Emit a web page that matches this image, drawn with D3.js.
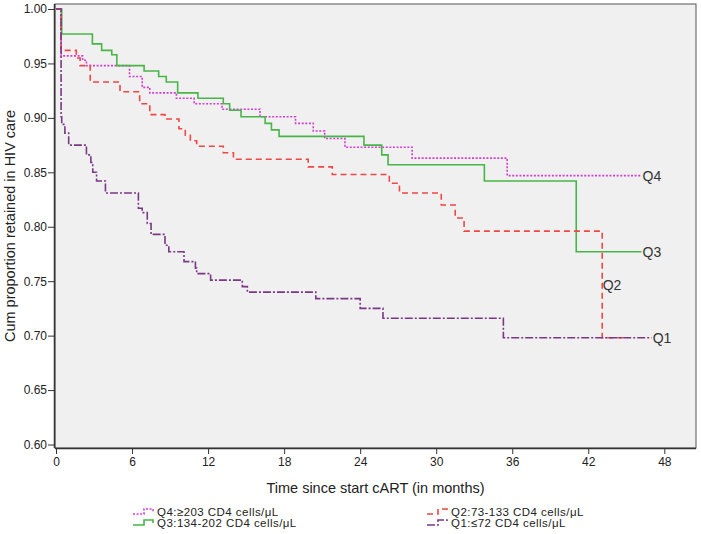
<!DOCTYPE html>
<html>
<head>
<meta charset="utf-8">
<script src="https://cdn.jsdelivr.net/npm/d3@7"></script>
<style>
  html, body { margin: 0; padding: 0; background: #ffffff; }
  svg { display: block; font-family: "Liberation Sans", Arial, sans-serif; }
</style>
</head>
<body>
<svg id="chart" width="701" height="534"></svg>
<script>
// ---- Data ----
const q4Times  = [0, 0.4, 2.1, 2.4, 5.8, 6.8, 7.4, 9.5, 10.9, 13.1, 16.1, 18.9, 20.3, 21.2, 22.8, 28.1, 35.6, 46.2];
const q4Values = [1.0, 0.957, 0.953, 0.948, 0.938, 0.928, 0.923, 0.918, 0.913, 0.908, 0.901, 0.895, 0.888, 0.881, 0.873, 0.863, 0.847, 0.847];

const q3Times  = [0, 0.45, 2.87, 3.6, 4.4, 4.8, 6.95, 8.1, 8.7, 9.6, 11.2, 13.2, 13.7, 14.6, 16.5, 17.0, 17.6, 24.3, 25.7, 26.2, 33.8, 41.05, 46.2];
const q3Values = [1.0, 0.977, 0.968, 0.962, 0.958, 0.948, 0.943, 0.938, 0.933, 0.923, 0.918, 0.913, 0.907, 0.901, 0.895, 0.889, 0.883, 0.875, 0.866, 0.857, 0.842, 0.777, 0.777];

const q2Times  = [0, 0.4, 1.6, 1.9, 2.7, 5.05, 6.6, 7.4, 8.6, 9.7, 10.2, 10.6, 11.1, 13.2, 14.0, 19.9, 21.8, 26.3, 27.1, 30.4, 31.5, 32.2, 43.1, 45.0];
const q2Values = [1.0, 0.962, 0.955, 0.948, 0.933, 0.924, 0.913, 0.903, 0.899, 0.890, 0.884, 0.879, 0.874, 0.868, 0.862, 0.855, 0.848, 0.840, 0.831, 0.820, 0.808, 0.796, 0.698, 0.698];

const q1Times  = [0, 0.4, 0.45, 0.7, 1.0, 2.4, 2.75, 2.9, 3.2, 3.9, 6.5, 6.8, 7.2, 7.5, 8.6, 8.9, 10.1, 11.0, 11.1, 12.2, 14.7, 15.1, 20.5, 24.0, 25.8, 35.3, 47.0];
const q1Values = [1.0, 0.901, 0.894, 0.886, 0.875, 0.866, 0.859, 0.850, 0.842, 0.831, 0.817, 0.813, 0.803, 0.793, 0.783, 0.777, 0.768, 0.762, 0.757, 0.751, 0.745, 0.740, 0.734, 0.725, 0.716, 0.698, 0.698];

const seriesNames   = ["Q4", "Q3", "Q2", "Q1"];
const legendLabels  = ["Q4:\u2265203 CD4 cells/\u03bcL", "Q3:134-202 CD4 cells/\u03bcL", "Q2:73-133 CD4 cells/\u03bcL", "Q1:\u226472 CD4 cells/\u03bcL"];
const xTickValues   = [0, 6, 12, 18, 24, 30, 36, 42, 48];
const yTickValues   = [0.60, 0.65, 0.70, 0.75, 0.80, 0.85, 0.90, 0.95, 1.00];
const xTitle = "Time since start cART (in months)";
const yTitle = "Cum proportion retained in HIV care";

// ---- Styles ----
const styles = {
  Q4: { color: "#d03ed0", dash: "2,1.6" },
  Q3: { color: "#48b548", dash: null },
  Q2: { color: "#f04646", dash: "6,4" },
  Q1: { color: "#7a3886", dash: "8,2,2,2" }
};

const series = [
  { name: "Q4", times: q4Times, values: q4Values },
  { name: "Q3", times: q3Times, values: q3Values },
  { name: "Q2", times: q2Times, values: q2Values },
  { name: "Q1", times: q1Times, values: q1Values }
].map(s => ({ ...s, points: s.times.map((t, i) => [t, s.values[i]]) }));

// ---- Layout ----
const plot = { left: 55, top: 4, right: 696, bottom: 448 };
const svg = d3.select("#chart");

const x = d3.scaleLinear().domain([-0.08, 50.5]).range([plot.left, plot.right]);
const y = d3.scaleLinear().domain([0.5968, 1.0046]).range([plot.bottom, plot.top]);

// plot background
svg.append("rect")
  .attr("x", plot.left).attr("y", plot.top)
  .attr("width", plot.right - plot.left).attr("height", plot.bottom - plot.top)
  .attr("fill", "#f0f0f0")
  .attr("stroke", "#555").attr("stroke-width", 1);

// clip
svg.append("clipPath").attr("id", "clip").append("rect")
  .attr("x", plot.left).attr("y", plot.top)
  .attr("width", plot.right - plot.left).attr("height", plot.bottom - plot.top);

// axes
const xAxis = d3.axisBottom(x).tickValues(xTickValues).tickSize(6).tickPadding(3).tickFormat(d3.format("d"));
const yAxis = d3.axisLeft(y).tickValues(yTickValues).tickSize(7).tickPadding(1).tickFormat(d3.format(".2f"));

const gx = svg.append("g").attr("transform", `translate(0,${plot.bottom})`).call(xAxis);
const gy = svg.append("g").attr("transform", `translate(${plot.left},0)`).call(yAxis);
[gx, gy].forEach(g => {
  g.select(".domain").attr("stroke", "#333").attr("stroke-width", 1.5);
  g.selectAll(".tick line").attr("stroke", "#333").attr("stroke-width", 1);
  g.selectAll(".tick text").attr("fill", "#222").attr("font-size", "12px")
    .attr("font-family", "'Liberation Sans', Arial, sans-serif");
});
gx.select(".domain").attr("d", `M${plot.left},0.5H${plot.right}`);
gy.select(".domain").attr("d", `M-0.5,${plot.top}V${plot.bottom}`);

// axis titles
svg.append("text")
  .attr("x", (plot.left + plot.right) / 2).attr("y", 493)
  .attr("text-anchor", "middle").attr("font-size", "14.5px").attr("fill", "#222")
  .text(xTitle);
svg.append("text")
  .attr("transform", `translate(15,${(plot.top + plot.bottom) / 2}) rotate(-90)`)
  .attr("text-anchor", "middle").attr("font-size", "14.5px").attr("fill", "#222")
  .text(yTitle);

// survival curves
const line = d3.line().x(d => x(d[0])).y(d => y(d[1])).curve(d3.curveStepAfter);
const g = svg.append("g").attr("clip-path", "url(#clip)");
g.selectAll("path.curve").data(series).enter().append("path")
  .attr("class", "curve")
  .attr("d", d => line(d.points))
  .attr("fill", "none")
  .attr("stroke", d => styles[d.name].color)
  .attr("stroke-width", 1.6)
  .attr("stroke-dasharray", d => styles[d.name].dash);

// end labels
series.forEach(s => {
  const last = s.points[s.points.length - 1];
  let lx, ly;
  if (s.name === "Q2") {
    const drop = s.points[s.points.length - 2];
    const prev = s.points[s.points.length - 3];
    lx = x(drop[0]) + 0.5;
    ly = (y(prev[1]) + y(drop[1])) / 2;
  } else {
    lx = x(last[0]) + 1;
    ly = y(last[1]);
  }
  svg.append("text")
    .attr("x", lx).attr("y", ly).attr("dy", "0.36em")
    .attr("font-size", "14px").attr("fill", "#333")
    .text(s.name);
});

// legend
const legendPos = {
  Q4: [133, 512], Q3: [133, 523],
  Q2: [427, 512], Q1: [427, 523]
};
series.forEach((s, i) => {
  const [lx, ly] = legendPos[s.name];
  const st = styles[s.name];
  svg.append("path")
    .attr("d", `M${lx},${ly + 2}H${lx + 11}V${ly - 3}H${lx + 20}V${ly}`)
    .attr("fill", "none").attr("stroke", st.color).attr("stroke-width", 1.6)
    .attr("stroke-dasharray", st.dash);
  svg.append("text")
    .attr("x", lx + 24).attr("y", ly).attr("dy", "0.35em")
    .attr("font-size", "11.5px").attr("letter-spacing", "0.45px").attr("fill", "#222")
    .text(legendLabels[seriesNames.indexOf(s.name)]);
});
</script>
</body>
</html>
